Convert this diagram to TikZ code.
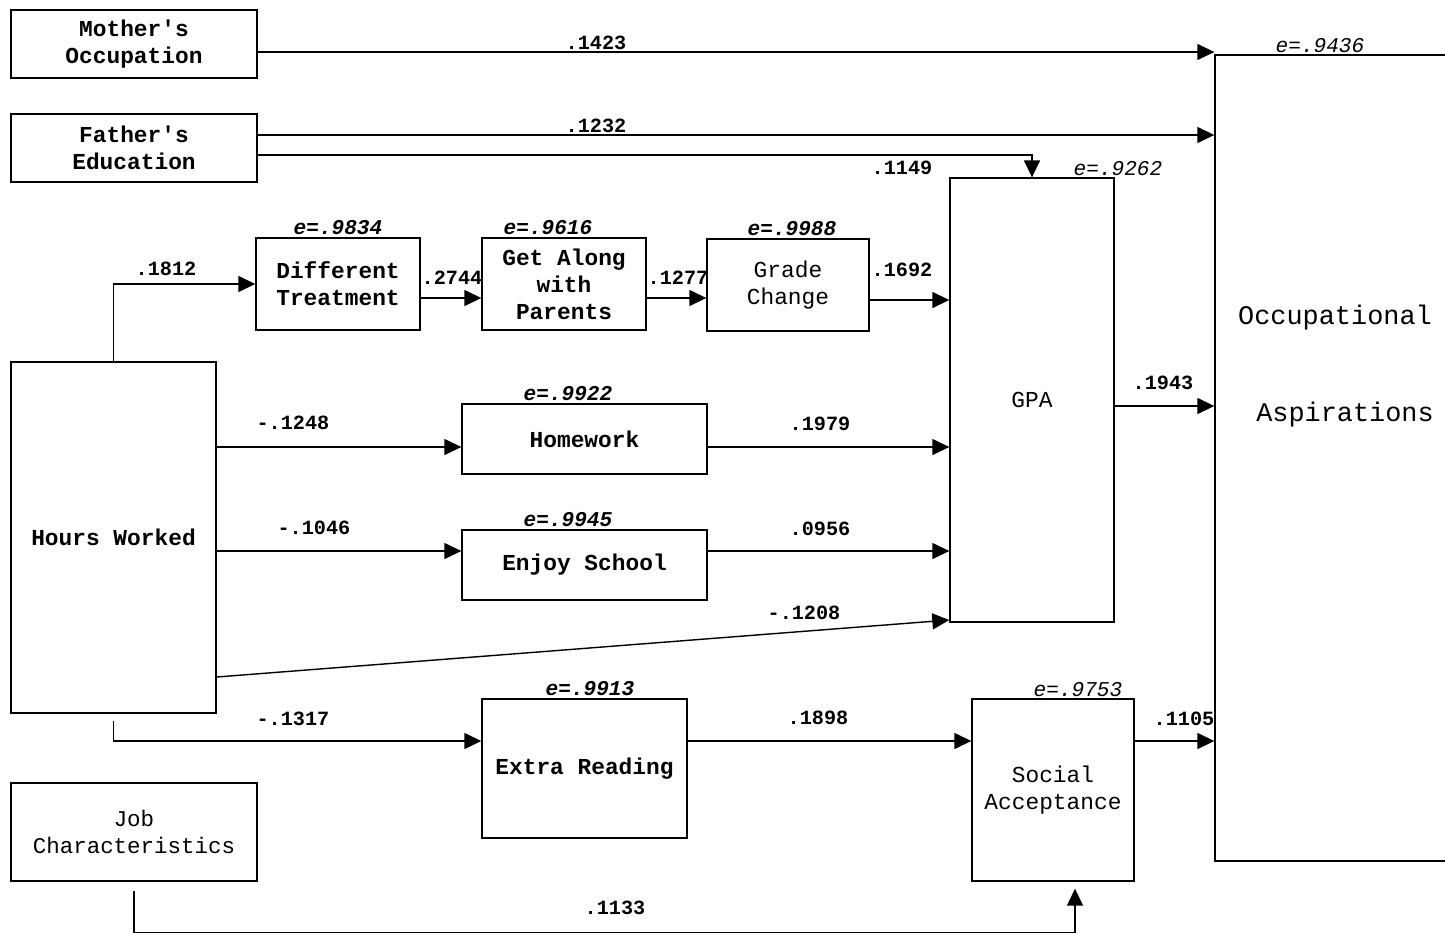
\documentclass[tikz,border=0pt]{standalone}
\usepackage{fontspec}
\setmainfont{Liberation Mono}
\usetikzlibrary{positioning,arrows.meta,calc}
\tikzset{
  box/.style={draw, line width=0.8pt, align=center, inner sep=0pt},
  heavy/.style={font=\bfseries\fontsize{13}{15.4}\selectfont},
  light/.style={font=\fontsize{13}{15.4}\selectfont},
  narrow/.style={font=\fontsize{12.8}{15.4}\selectfont},
  arrowline/.style={line width=0.8pt, -{Triangle[length=0.34cm,width=0.32cm]}},
  coef/.style={font=\bfseries\fontsize{11.5}{13}\selectfont, inner sep=1pt},
  errlab/.style={font=\bfseries\itshape\fontsize{12}{14}\selectfont, inner sep=1pt},
  errthin/.style={font=\itshape\fontsize{12}{14}\selectfont, inner sep=1pt}
}
\begin{document}
\begin{tikzpicture}[x=0.02cm, y=-0.02cm]
    \useasboundingbox (0,0) rectangle (1445,934);

    % exogenous variables
    \node[box, heavy, minimum width=4.92cm, minimum height=1.36cm] (mother) at (134,44) {Mother\textquotesingle s\\Occupation};
    \node[box, heavy, minimum width=4.92cm, minimum height=1.36cm] (father) at (134,148) {Father\textquotesingle s\\Education};
    \node[box, heavy, minimum width=4.1cm, minimum height=7.02cm] (hours) at (113.5,537.5) {Hours Worked};
    \node[box, narrow, minimum width=4.92cm, minimum height=1.96cm] (job) at (134,832) {Job\\Characteristics};

    % mediators
    \node[box, heavy, minimum width=3.28cm, minimum height=1.84cm, label={[errlab]above:e=.9834}] (difftreat) at (338,284) {Different\\Treatment};
    \node[box, heavy, minimum width=3.28cm, minimum height=1.84cm, label={[errlab, xshift=-0.32cm]above:e=.9616}] (getalong) at (564,284) {Get Along\\with\\Parents};
    \node[box, light, minimum width=3.24cm, minimum height=1.84cm, label={[errlab, xshift=0.08cm]above:e=.9988}] (grade) at (788,285) {Grade\\Change};
    \node[box, heavy, minimum width=4.9cm, minimum height=1.4cm, label={[errlab, xshift=-0.33cm]above:e=.9922}] (homework) at (584.5,439) {Homework};
    \node[box, heavy, minimum width=4.9cm, minimum height=1.4cm, label={[errlab, xshift=-0.33cm]above:e=.9945}] (enjoy) at (584.5,565) {Enjoy School};
    \node[box, heavy, minimum width=4.1cm, minimum height=2.78cm, label={[errlab, xshift=0.11cm]above:e=.9913}] (extra) at (584.5,768.5) {Extra Reading};
    \node[box, light, minimum width=3.28cm, minimum height=8.88cm, label={[errthin, xshift=1.72cm]above:e=.9262}] (gpa) at (1032,400) {GPA};
    \node[box, light, minimum width=3.24cm, minimum height=3.64cm, label={[errthin, xshift=0.5cm]above:e=.9753}] (social) at (1053,790) {Social\\Acceptance};

    % outcome, open on the right
    \node[box, minimum width=5.2cm, minimum height=16.12cm, label={[errthin, xshift=-0.5cm]above:e=.9436}] (occasp) at (1345,458) {};
    \node[font=\fontsize{15.3}{18}\selectfont] (occ) at (1335,318) {Occupational};
    \node[font=\fontsize{15.3}{18}\selectfont] (asp) at (1345,415) {Aspirations};

    % paths
    \draw[arrowline] (mother.east |- 0,52) -- (occasp.west |- 0,52);
    \draw[arrowline] (father.east |- 0,135) -- (occasp.west |- 0,135);
    \draw[arrowline] (father.east |- 0,155) -| (gpa.north);
    \draw[arrowline] (hours.north) |- (difftreat.west);
    \draw[arrowline] (difftreat.east |- 0,298) -- (getalong.west |- 0,298);
    \draw[arrowline] (getalong.east |- 0,298) -- (grade.west |- 0,298);
    \draw[arrowline] (grade.east |- 0,300) -- (gpa.west |- 0,300);
    \draw[arrowline] (hours.east |- 0,447) -- (homework.west |- 0,447);
    \draw[arrowline] (homework.east |- 0,447) -- (gpa.west |- 0,447);
    \draw[arrowline] (hours.east |- 0,551) -- (enjoy.west |- 0,551);
    \draw[arrowline] (enjoy.east |- 0,551) -- (gpa.west |- 0,551);
    \draw[arrowline] (hours.east |- 0,677) -- (gpa.west |- 0,620);
    \draw[arrowline] (gpa.east |- 0,406) -- (occasp.west |- 0,406);
    \draw[arrowline] ([yshift=-0.14cm]hours.south) |- (extra.west |- 0,741);
    \draw[arrowline] (extra.east |- 0,741) -- (social.west |- 0,741);
    \draw[arrowline] (social.east |- 0,741) -- (occasp.west |- 0,741);
    \draw[arrowline] ([yshift=-0.18cm]job.south) -- ++(0,42) -| ($(social.south)+(22,7)$);

    % coefficients
    \node[coef] (c1) at (596,43) {.1423};
    \node[coef] (c2) at (596,126) {.1232};
    \node[coef] (c3) at (902,168) {.1149};
    \node[coef] (c4) at (166,269) {.1812};
    \node[coef] (c5) at (452,278) {.2744};
    \node[coef] (c6) at (678,278) {.1277};
    \node[coef] (c7) at (902,270) {.1692};
    \node[coef] (c8) at (293,423) {-.1248};
    \node[coef] (c9) at (820,424) {.1979};
    \node[coef] (c10) at (314,528) {-.1046};
    \node[coef] (c11) at (820,529) {.0956};
    \node[coef] (c12) at (804,613) {-.1208};
    \node[coef] (c13) at (1163,383) {.1943};
    \node[coef] (c14) at (293,719) {-.1317};
    \node[coef] (c15) at (818,718) {.1898};
    \node[coef] (c16) at (1184,719) {.1105};
    \node[coef] (c17) at (615,908) {.1133};
\end{tikzpicture}
\end{document}
